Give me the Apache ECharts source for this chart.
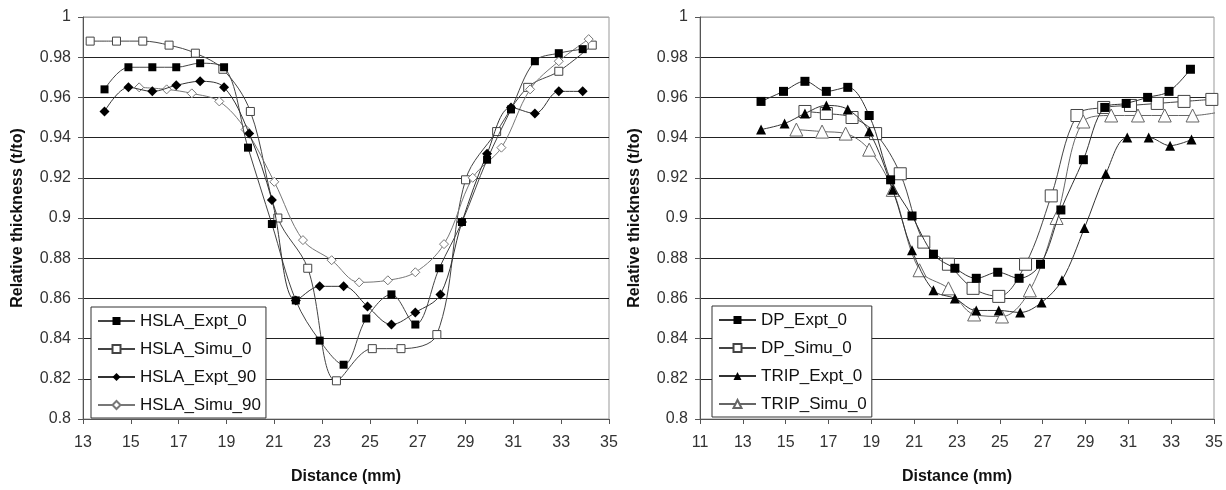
<!DOCTYPE html>
<html>
<head>
<meta charset="utf-8">
<script src="https://cdn.jsdelivr.net/npm/echarts@6/dist/echarts.min.js"></script>
<style>
  html, body { margin: 0; padding: 0; background: #fff; }
  #chart { width: 1226px; height: 490px; }
</style>
</head>
<body>
<div id="chart"></div>
<script>
// left panel: HSLA
const hslaExpt0 = [[13.9,0.964],[14.9,0.975],[15.9,0.975],[16.9,0.975],[17.9,0.977],[18.9,0.975],[19.9,0.935],[20.9,0.897],[21.9,0.859],[22.9,0.839],[23.9,0.827],[24.85,0.850],[25.9,0.862],[26.9,0.847],[27.9,0.875],[28.85,0.898],[29.9,0.929],[30.9,0.954],[31.9,0.978],[32.9,0.982],[33.9,0.984]];
const hslaSimu0 = [[13.3,0.988],[14.4,0.988],[15.5,0.988],[16.6,0.986],[17.7,0.982],[18.85,0.974],[20.0,0.953],[21.15,0.900],[22.4,0.875],[23.6,0.819],[25.1,0.835],[26.3,0.835],[27.8,0.842],[29.0,0.919],[30.3,0.943],[31.6,0.965],[32.9,0.973],[34.3,0.986]];
const hslaExpt90 = [[13.9,0.953],[14.9,0.965],[15.9,0.963],[16.9,0.966],[17.9,0.968],[18.9,0.965],[19.95,0.942],[20.9,0.909],[21.9,0.859],[22.9,0.866],[23.9,0.866],[24.9,0.856],[25.9,0.847],[26.9,0.853],[27.95,0.862],[28.85,0.898],[29.9,0.932],[30.9,0.955],[31.9,0.952],[32.9,0.963],[33.9,0.963]];
const hslaSimu90 = [[15.35,0.965],[16.5,0.964],[17.55,0.962],[18.7,0.958],[19.8,0.944],[21.0,0.918],[22.2,0.889],[23.4,0.879],[24.55,0.868],[25.75,0.869],[26.9,0.873],[28.1,0.887],[29.3,0.920],[30.5,0.935],[31.7,0.964],[32.9,0.978],[34.15,0.989]];

// right panel: DP / TRIP
const dpExpt0 = [[13.85,0.958],[14.9,0.963],[15.9,0.968],[16.9,0.963],[17.9,0.965],[18.9,0.951],[19.9,0.919],[20.9,0.901],[21.9,0.882],[22.9,0.875],[23.9,0.870],[24.9,0.873],[25.9,0.870],[26.9,0.877],[27.85,0.904],[28.9,0.929],[29.9,0.955],[30.9,0.957],[31.9,0.960],[32.9,0.963],[33.9,0.974]];
const dpSimu0 = [[15.9,0.953],[16.9,0.952],[18.1,0.950],[19.2,0.942],[20.35,0.922],[21.45,0.888],[22.6,0.877],[23.75,0.865],[24.95,0.861],[26.2,0.877],[27.4,0.911],[28.6,0.951],[29.85,0.955],[31.1,0.956],[32.35,0.957],[33.6,0.958],[34.9,0.959]];
const tripExpt0 = [[13.85,0.944],[14.95,0.947],[15.9,0.952],[16.9,0.956],[17.9,0.954],[18.9,0.943],[20.0,0.914],[20.9,0.884],[21.9,0.864],[22.9,0.860],[23.9,0.854],[24.95,0.854],[25.95,0.853],[26.95,0.858],[27.9,0.869],[28.95,0.895],[29.95,0.922],[30.95,0.940],[31.95,0.940],[32.95,0.936],[33.95,0.939]];
const tripSimu0 = [[15.5,0.944],[16.7,0.943],[17.8,0.942],[18.9,0.934],[20.0,0.914],[21.25,0.874],[22.6,0.865],[23.8,0.852],[25.1,0.851],[26.4,0.864],[27.65,0.900],[28.9,0.948],[30.2,0.951],[31.45,0.951],[32.7,0.951],[34.0,0.951],[35.4,0.953]];

const yMin = 0.8, yMax = 1, yStep = 0.02;
const leftX = { min: 13, max: 35, step: 2 };
const rightX = { min: 11, max: 35, step: 2 };

const font = 'Liberation Sans, Arial, sans-serif';
const gridLineColors = ['#222','#222','#222','#222','#222','#222','#222','#222','#222','#222','#aaa'];

function xAxis(gridIndex, r) {
    return {
        type: 'value', gridIndex,
        min: r.min, max: r.max, interval: r.step,
        name: 'Distance (mm)', nameLocation: 'middle', nameGap: 50,
        nameTextStyle: { fontFamily: font, fontSize: 16, fontWeight: 'bold', color: '#111' },
        axisLine: { show: true, lineStyle: { color: '#555', width: 1 } },
        axisTick: { show: true, inside: false, length: 5, lineStyle: { color: '#555' } },
        axisLabel: { fontFamily: font, fontSize: 16, color: '#333', margin: 16 },
        splitLine: { show: false }
    };
}

function yAxis(gridIndex) {
    return {
        type: 'value', gridIndex,
        min: yMin, max: yMax, interval: yStep,
        name: 'Relative thickness (t/to)', nameLocation: 'middle', nameGap: 57,
        nameTextStyle: { fontFamily: font, fontSize: 16, fontWeight: 'bold', color: '#111' },
        axisLine: { show: true, lineStyle: { color: '#555', width: 1 } },
        axisTick: { show: true, inside: false, length: 5, lineStyle: { color: '#555' } },
        axisLabel: {
            fontFamily: font, fontSize: 16, color: '#333', margin: 12,
            formatter: v => String(+v.toFixed(2))
        },
        splitLine: { show: true, lineStyle: { color: gridLineColors, width: 1 } }
    };
}

function line(name, data, idx, symbol, size, filled, color) {
    return {
        name, type: 'line', data,
        xAxisIndex: idx, yAxisIndex: idx,
        smooth: 0.35,
        symbol, symbolSize: size,
        showAllSymbol: true,
        clip: true,
        lineStyle: { color, width: 1 },
        itemStyle: filled
            ? { color: '#000', borderColor: '#000', borderWidth: 0 }
            : { color: '#fff', borderColor: color, borderWidth: 1 },
        emphasis: { disabled: true },
        z: filled ? 3 : 2
    };
}

const legendBase = {
    orient: 'vertical',
    itemWidth: 37, itemHeight: 10, itemGap: 8,
    borderColor: '#333', borderWidth: 1,
    padding: [4, 5, 3, 6],
    backgroundColor: '#fff',
    textStyle: { fontFamily: font, fontSize: 17, color: '#111', lineHeight: 20 }
};

// the TRIP_Simu_0 curve runs a little past the right border in the original
const tripSimuSeries = line('TRIP_Simu_0', tripSimu0, 1, 'triangle', 13, false, '#666');
tripSimuSeries.clip = false;
tripSimuSeries.data = tripSimu0.map(p => p[0] > rightX.max ? { value: p, symbol: 'none' } : p);

const chart = echarts.init(document.getElementById('chart'), null, { renderer: 'canvas' });

chart.setOption({
    backgroundColor: '#fff',
    animation: false,
    grid: [
        { left: 83, top: 17, width: 526, height: 408, show: true, borderColor: '#999', borderWidth: 1, backgroundColor: 'transparent' },
        { left: 700, top: 17, width: 514, height: 406, show: true, borderColor: '#999', borderWidth: 1, backgroundColor: 'transparent' }
    ],
    xAxis: [xAxis(0, leftX), xAxis(1, rightX)],
    yAxis: [yAxis(0), yAxis(1)],
    legend: [
        Object.assign({}, legendBase, { left: 91, top: 307, data: ['HSLA_Expt_0', 'HSLA_Simu_0', 'HSLA_Expt_90', 'HSLA_Simu_90'] }),
        Object.assign({}, legendBase, { left: 712, top: 306, data: ['DP_Expt_0', 'DP_Simu_0', 'TRIP_Expt_0', 'TRIP_Simu_0'] })
    ],
    series: [
        line('HSLA_Expt_0', hslaExpt0, 0, 'rect', 8, true, '#444'),
        line('HSLA_Simu_0', hslaSimu0, 0, 'rect', 8, false, '#444'),
        line('HSLA_Expt_90', hslaExpt90, 0, 'diamond', 10, true, '#333'),
        line('HSLA_Simu_90', hslaSimu90, 0, 'diamond', 9, false, '#777'),
        line('DP_Expt_0', dpExpt0, 1, 'rect', 9, true, '#333'),
        line('DP_Simu_0', dpSimu0, 1, 'rect', 12, false, '#444'),
        line('TRIP_Expt_0', tripExpt0, 1, 'triangle', 10, true, '#333'),
        tripSimuSeries
    ]
});
</script>
</body>
</html>
